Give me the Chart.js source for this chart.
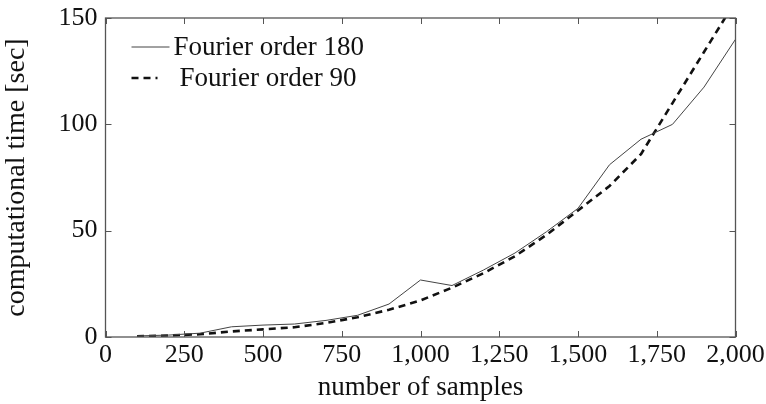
<!DOCTYPE html>
<html>
<head>
<meta charset="utf-8">
<script src="https://cdn.jsdelivr.net/npm/chart.js@4/dist/chart.umd.min.js"></script>
<style>
  html, body { margin: 0; padding: 0; background: #fff; }
  #wrap { width: 766px; height: 404px; position: relative; }
</style>
</head>
<body>
<div id="wrap"><canvas id="timeChart"></canvas></div>
<script>
// Sample counts (x) and run times in seconds for the two Fourier orders
const samples = [100, 200, 300, 400, 500, 600, 700, 800, 900, 1000,
                 1100, 1200, 1300, 1400, 1500, 1600, 1700, 1800, 1900, 2000];
const order180 = [0.5, 0.9, 1.8, 4.8, 5.6, 6.1, 7.8, 10.2, 15.5, 26.8,
                  24.2, 31.5, 39.5, 49.5, 60.5, 81, 93, 100, 117.5, 140];
const order90 = [0.3, 0.7, 1.3, 2.6, 3.6, 4.6, 6.6, 9.3, 12.8, 17.2,
                 23.2, 30, 38, 48, 59.5, 71, 86, 110, 134, 158];

const xTicks = [0, 250, 500, 750, 1000, 1250, 1500, 1750, 2000];
const yTicks = [0, 50, 100, 150];

const serif = "'Liberation Serif', 'DejaVu Serif', serif";
const frameColor = '#555';

const toPoints = (ys) => samples.map((x, i) => ({ x: x, y: ys[i] }));

// pgfplots-like box: full frame plus inward ticks on all four sides
const framePlugin = {
    id: 'frame',
    afterDatasetsDraw(chart) {
        const { ctx, chartArea: a, scales } = chart;
        ctx.save();
        ctx.strokeStyle = frameColor;
        ctx.lineWidth = 1;
        const tick = 6;
        ctx.beginPath();
        xTicks.forEach(v => {
            const px = Math.round(scales.x.getPixelForValue(v)) + 0.5;
            ctx.moveTo(px, a.bottom); ctx.lineTo(px, a.bottom - tick);
            ctx.moveTo(px, a.top); ctx.lineTo(px, a.top + tick);
        });
        yTicks.forEach(v => {
            const py = Math.round(scales.y.getPixelForValue(v)) + 0.5;
            ctx.moveTo(a.left, py); ctx.lineTo(a.left + tick, py);
            ctx.moveTo(a.right, py); ctx.lineTo(a.right - tick, py);
        });
        ctx.stroke();
        ctx.lineWidth = 1.3;
        ctx.strokeRect(a.left, a.top, a.right - a.left, a.bottom - a.top);
        ctx.restore();
    }
};

// Legend box in the upper left of the plot
const legendPlugin = {
    id: 'innerLegend',
    afterDraw(chart) {
        const { ctx, chartArea: a } = chart;
        const rows = [
            { ds: chart.data.datasets[0], x0: 26, x1: 64, tx: 68, y: 29 },
            { ds: chart.data.datasets[1], x0: 26, x1: 52, tx: 74, y: 60 }
        ];
        ctx.save();
        ctx.font = '27px ' + serif;
        ctx.textBaseline = 'middle';
        ctx.fillStyle = '#111';
        rows.forEach(r => {
            ctx.beginPath();
            ctx.strokeStyle = r.ds.borderColor;
            ctx.lineWidth = r.ds.borderWidth;
            ctx.setLineDash(r.ds.borderDash || []);
            ctx.moveTo(a.left + r.x0, a.top + r.y);
            ctx.lineTo(a.left + r.x1, a.top + r.y);
            ctx.stroke();
            ctx.setLineDash([]);
            ctx.fillText(r.ds.label, a.left + r.tx, a.top + r.y + 1);
        });
        ctx.restore();
    }
};

new Chart(document.getElementById('timeChart'), {
    type: 'line',
    data: {
        datasets: [
            {
                label: 'Fourier order 180',
                data: toPoints(order180),
                borderColor: '#444',
                borderWidth: 1,
                pointRadius: 0,
                tension: 0
            },
            {
                label: 'Fourier order 90',
                data: toPoints(order90),
                borderColor: '#111',
                borderWidth: 2.6,
                borderDash: [7, 5],
                pointRadius: 0,
                tension: 0
            }
        ]
    },
    options: {
        responsive: true,
        maintainAspectRatio: false,
        animation: false,
        layout: { padding: { top: 18, right: 30.5, left: 0, bottom: 0 } },
        plugins: {
            legend: { display: false },
            tooltip: { enabled: false }
        },
        scales: {
            x: {
                type: 'linear',
                min: 0,
                max: 2000,
                afterBuildTicks: (s) => { s.ticks = xTicks.map(v => ({ value: v })); },
                afterFit: (s) => {
                    s.height = 67;
                    s.paddingLeft = 0; s.paddingRight = 0;
                },
                grid: { display: false, drawTicks: false },
                border: { display: false },
                ticks: {
                    color: '#111',
                    padding: 3,
                    maxRotation: 0,
                    font: { family: serif, size: 26 },
                    callback: (v) => v.toLocaleString('en-US')
                },
                title: {
                    display: true,
                    text: 'number of samples',
                    color: '#111',
                    padding: { top: 0, bottom: 0 },
                    font: { family: serif, size: 27 }
                }
            },
            y: {
                min: 0,
                max: 150,
                afterBuildTicks: (s) => { s.ticks = yTicks.map(v => ({ value: v })); },
                afterFit: (s) => {
                    s.width = 105.5;
                    s.paddingTop = 0; s.paddingBottom = 0;
                },
                grid: { display: false, drawTicks: false },
                border: { display: false },
                ticks: {
                    color: '#111',
                    padding: 8,
                    font: { family: serif, size: 26 }
                },
                title: {
                    display: true,
                    text: 'computational time [sec]',
                    color: '#111',
                    padding: { top: 0, bottom: 2 },
                    font: { family: serif, size: 28 }
                }
            }
        }
    },
    plugins: [framePlugin, legendPlugin]
});
</script>
</body>
</html>
